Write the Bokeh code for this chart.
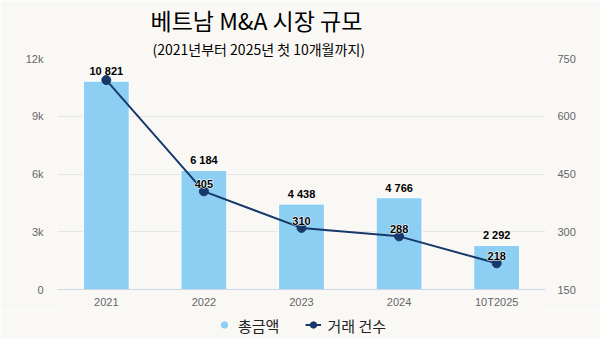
from bokeh.plotting import figure
from bokeh.models import (ColumnDataSource, Range1d, LinearAxis, FixedTicker, Legend,
                          LegendItem, Title, FactorRange)
from bokeh.layouts import column
from bokeh.core.properties import value
from bokeh.embed import file_html
from bokeh.resources import INLINE

categories = ["2021", "2022", "2023", "2024", "10T2025"]
total_value = [10821, 6184, 4438, 4766, 2292]
total_labels = ["10 821", "6 184", "4 438", "4 766", "2 292"]
deal_count = [694, 405, 310, 288, 218]
deal_labels = ["", "405", "310", "288", "218"]
left_ticks = [0, 3000, 6000, 9000, 12000]
left_tick_labels = ["0", "3k", "6k", "9k", "12k"]
right_ticks = [150, 300, 450, 600, 750]
title_text = "베트남 M&A 시장 규모"
subtitle_text = "(2021년부터 2025년 첫 10개월까지)"
series_names = ["총금액", "거래 건수"]

BG = "#faf8f5"
BAR = "#8ccff3"
LINE = "#17386b"
KFONT = "Noto Sans CJK KR"
LFONT = "Liberation Sans"

src = ColumnDataSource(dict(x=categories, v=total_value, vl=total_labels,
                            c=deal_count, cl=deal_labels))

p = figure(width=600, height=310, x_range=FactorRange(*categories, range_padding=0),
           y_range=Range1d(0, 12000), output_backend="svg", toolbar_location=None,
           min_border_left=57, min_border_right=55, min_border_top=0, min_border_bottom=20,
           background_fill_color=BG, border_fill_color=BG, outline_line_color=None)
p.extra_y_ranges = {"right": Range1d(150, 750)}

# axes
p.yaxis.ticker = FixedTicker(ticks=left_ticks)
p.yaxis.major_label_overrides = {t: l for t, l in zip(left_ticks, left_tick_labels)}
for ax in [p.yaxis[0]]:
    ax.axis_line_color = None
    ax.major_tick_line_color = None
    ax.minor_tick_line_color = None
    ax.major_tick_out = 0
    ax.major_label_standoff = 14
    ax.major_label_text_font = LFONT
    ax.major_label_text_font_size = "11px"
    ax.major_label_text_color = "#666666"

rax = LinearAxis(y_range_name="right", ticker=FixedTicker(ticks=right_ticks))
rax.axis_line_color = None
rax.major_tick_line_color = None
rax.minor_tick_line_color = None
rax.major_tick_out = 0
rax.major_label_standoff = 12
rax.major_label_text_font = LFONT
rax.major_label_text_font_size = "11px"
rax.major_label_text_color = "#666666"
p.add_layout(rax, "right")

p.xaxis.axis_line_color = "#ccd6eb"
p.xaxis.major_tick_line_color = None
p.xaxis.major_tick_out = 0
p.xaxis.major_label_standoff = 6
p.xaxis.major_label_text_font = LFONT
p.xaxis.major_label_text_font_size = "11px"
p.xaxis.major_label_text_color = "#666666"

p.xgrid.grid_line_color = None
p.ygrid.ticker = FixedTicker(ticks=left_ticks)
p.ygrid.grid_line_color = "#e6e6e6"

# bars
bars = p.vbar(x="x", top="v", width=0.47, source=src, fill_color=BAR, line_color="white", line_width=1)
p.text(x="x", y="v", text="vl", source=src, text_align="center", text_baseline="bottom",
       y_offset=-4, text_font=value(LFONT), text_font_size="11px", text_font_style="bold",
       text_color="#000000")

# line
ln = p.line(x="x", y="c", source=src, y_range_name="right", line_color=LINE, line_width=2)
pts = p.scatter(x="x", y="c", source=src, y_range_name="right", size=9, fill_color=LINE, line_color=LINE)
# white halo under the line labels
p.text(x="x", y="c", text="cl", source=src, y_range_name="right", text_align="center",
       text_baseline="bottom", y_offset=-3, text_font=value(LFONT), text_font_size="11px",
       text_font_style="bold", text_color="white", text_outline_color="white")
p.text(x="x", y="c", text="cl", source=src, y_range_name="right", text_align="center",
       text_baseline="bottom", y_offset=-3, text_font=value(LFONT), text_font_size="11px",
       text_font_style="bold", text_color="#000000")

# titles (added bottom-up in the above panel)
p.add_layout(Title(text=subtitle_text, align="left", offset=95, text_font=KFONT,
                   text_font_size="14px", text_font_style="normal", text_color="#000000",
                   standoff=0), "above")
p.add_layout(Title(text=title_text, align="left", offset=93, text_font=KFONT,
                   text_font_size="23px", text_font_style="normal", text_color="#000000",
                   standoff=0), "above")

# legend in its own strip below
pl = figure(width=600, height=29, output_backend="svg", toolbar_location=None,
            x_range=Range1d(0, 1), y_range=Range1d(0, 1),
            min_border=0, background_fill_color=BG, border_fill_color=BG,
            outline_line_color=None, x_axis_location=None, y_axis_location=None)
pl.xgrid.visible = False
pl.ygrid.visible = False
lg_bar = pl.scatter(x=[10], y=[10], size=12, fill_color=BAR, line_color=BAR)
lg_line = pl.line(x=[10, 11], y=[10, 10], line_color=LINE, line_width=2)
lg_pts = pl.scatter(x=[10], y=[10], size=8, fill_color=LINE, line_color=LINE)
legend = Legend(items=[LegendItem(label=series_names[0], renderers=[lg_bar]),
                       LegendItem(label=series_names[1], renderers=[lg_line, lg_pts])],
                orientation="horizontal", location="center",
                label_text_font=KFONT, label_text_font_size="15px", label_text_color="#222222",
                glyph_width=16, glyph_height=16, label_standoff=6, spacing=26,
                background_fill_alpha=0, border_line_color=None, padding=2, margin=0)
pl.add_layout(legend, "center")

layout = column(p, pl, spacing=0)
open("out.html", "w").write(file_html(layout, INLINE))
